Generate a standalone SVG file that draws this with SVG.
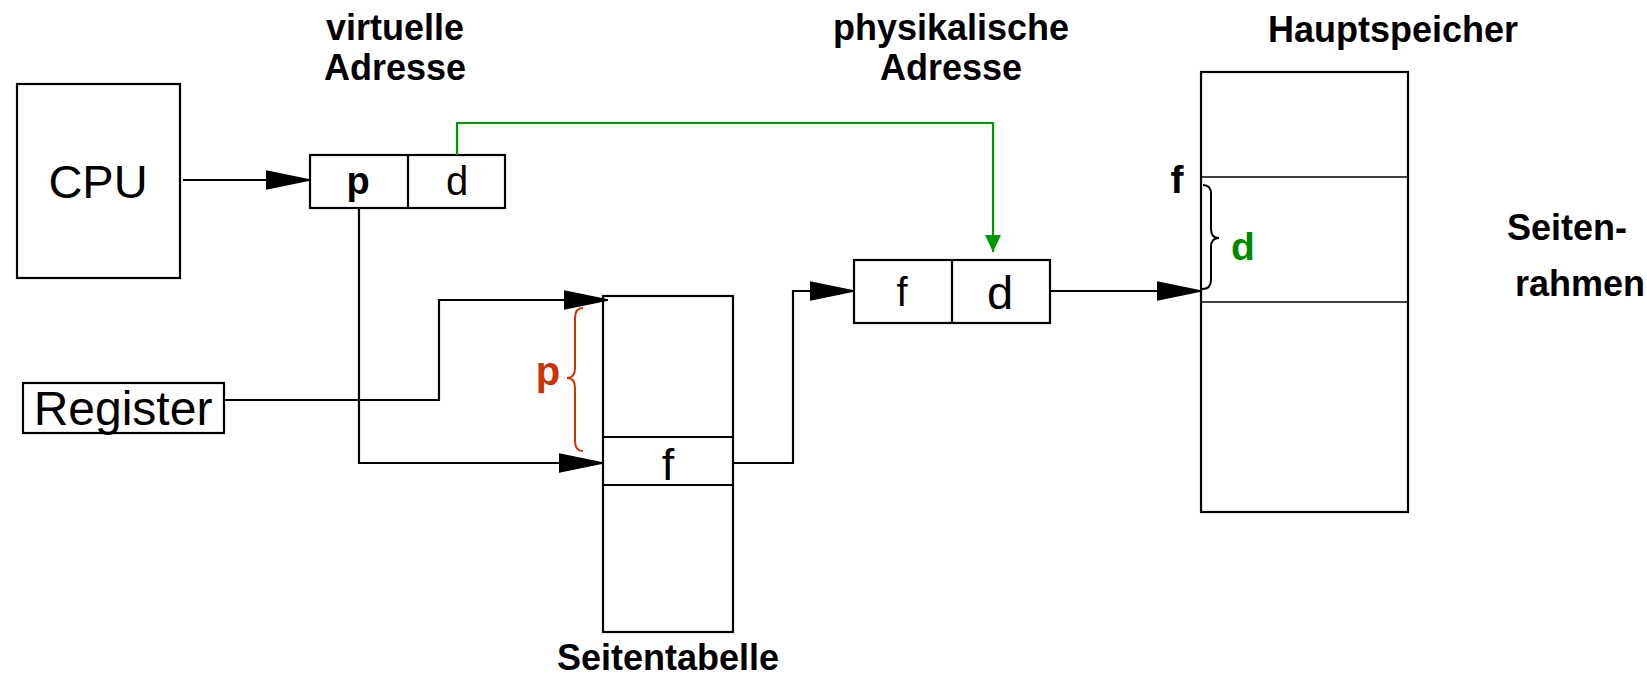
<svg xmlns="http://www.w3.org/2000/svg" width="1647" height="677" viewBox="0 0 1647 677">
<style>
.box{fill:#fff;stroke:#000;stroke-width:2.2}
.thin{stroke:#000;stroke-width:1.5;fill:none}
.sep{stroke:#000;stroke-width:2.2;fill:none}
.txt{font-family:"Liberation Sans",Arial,sans-serif;fill:#000;text-anchor:middle}
.lbl{font-family:"Liberation Sans",Arial,sans-serif;font-weight:bold;font-size:36px;fill:#000;text-anchor:middle}
.con{fill:none;stroke:#000;stroke-width:2.2}
.gcon{fill:none;stroke:#009900;stroke-width:2.2}
</style>
<defs>
<marker id="ah" markerUnits="userSpaceOnUse" viewBox="0 0 44 20" markerWidth="44" markerHeight="20" refX="44" refY="10" orient="auto">
<path d="M0,1 L44,10 L0,19 Z" fill="#000" stroke="#000" stroke-width="1.5" stroke-linejoin="round"/>
</marker>
<marker id="gah" markerUnits="userSpaceOnUse" viewBox="0 0 17 16" markerWidth="17" markerHeight="16" refX="17" refY="8" orient="auto">
<path d="M0,0 L17,8 L0,16 Z" fill="#009900"/>
</marker>
</defs>
<rect width="1647" height="677" fill="#fff"/>

<g id="cpu">
<rect class="box" x="17" y="84" width="163" height="194"/>
<text class="txt" x="98" y="198" font-size="47">CPU</text>
</g>

<g id="virtuelle-adresse">
<rect class="box" x="310" y="155" width="195" height="53"/>
<line class="sep" x1="408" y1="155" x2="408" y2="208"/>
<text class="txt" x="358" y="194" font-size="38" font-weight="bold">p</text>
<text class="txt" x="457" y="195" font-size="40">d</text>
<text class="lbl" x="395" y="40">virtuelle</text>
<text class="lbl" x="395" y="80">Adresse</text>
</g>

<g id="register">
<rect class="box" x="23" y="383" width="201" height="50"/>
<text class="txt" x="123" y="425" font-size="48">Register</text>
</g>

<g id="seitentabelle">
<rect class="box" x="603" y="296" width="130" height="336"/>
<line class="sep" x1="603" y1="437" x2="733" y2="437"/>
<line class="sep" x1="603" y1="485" x2="733" y2="485"/>
<text class="txt" x="668" y="480" font-size="45">f</text>
<text class="lbl" x="668" y="670">Seitentabelle</text>
<path d="M583,308 Q575,308 575,318 L575,368 Q575,378 567,378 Q575,378 575,388 L575,441 Q575,451 583,451" fill="none" stroke="#cc3300" stroke-width="2"/>
<text class="txt" x="548" y="385" font-size="40" font-weight="bold" style="fill:#cc3300">p</text>
</g>

<g id="physikalische-adresse">
<rect class="box" x="854" y="260" width="196" height="63"/>
<line class="sep" x1="952" y1="260" x2="952" y2="323"/>
<text class="txt" x="902" y="306" font-size="40">f</text>
<text class="txt" x="1000" y="309" font-size="47">d</text>
<text class="lbl" x="951" y="40">physikalische</text>
<text class="lbl" x="951" y="80">Adresse</text>
</g>

<g id="hauptspeicher">
<rect class="box" x="1201" y="72" width="207" height="440"/>
<line class="thin" x1="1201" y1="177" x2="1408" y2="177"/>
<line class="thin" x1="1201" y1="302" x2="1408" y2="302"/>
<text class="lbl" x="1393" y="42">Hauptspeicher</text>
<text class="txt" x="1177" y="193" font-size="39" font-weight="bold">f</text>
<path d="M1203,185 Q1211,185 1211,194 L1211,229 Q1211,238 1219,238 Q1211,238 1211,247 L1211,280 Q1211,289 1202,289" fill="none" stroke="#000" stroke-width="2"/>
<text class="txt" x="1243" y="260" font-size="39" font-weight="bold" style="fill:#008a00">d</text>
<text class="lbl" x="1567" y="240">Seiten-</text>
<text class="lbl" x="1580" y="296">rahmen</text>
</g>

<g id="connectors">
<path class="con" d="M183,180 H310" marker-end="url(#ah)"/>
<path class="con" d="M359,208 V463 H603" marker-end="url(#ah)"/>
<path class="con" d="M224,400 H439 V300 H608" marker-end="url(#ah)"/>
<path class="con" d="M733,463 H793 V291 H854" marker-end="url(#ah)"/>
<path class="con" d="M1050,291 H1201" marker-end="url(#ah)"/>
<path class="gcon" d="M457,155 V123 H993 V252" marker-end="url(#gah)"/>
</g>
</svg>
